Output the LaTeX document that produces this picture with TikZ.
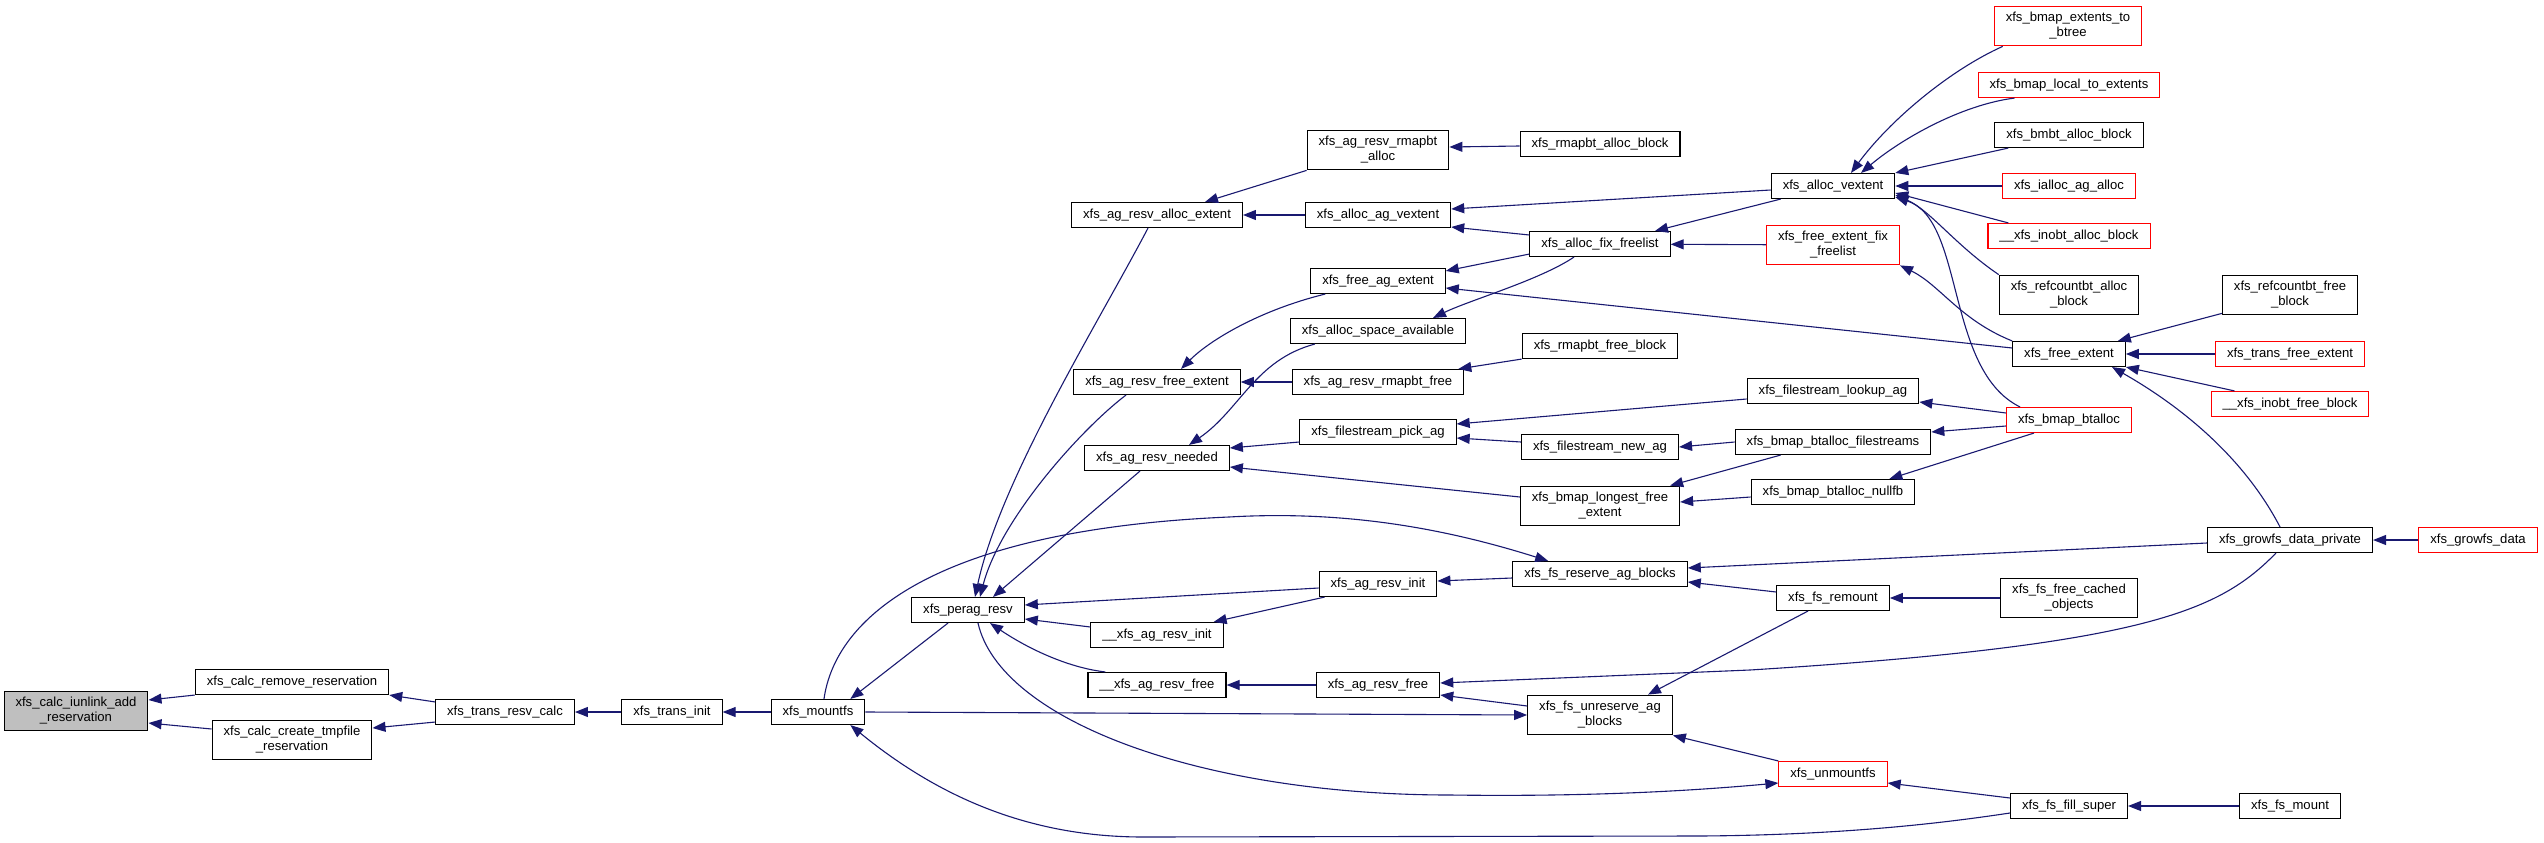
\documentclass[tikz,border=0pt]{standalone}
\usepackage{fontspec}
\setmainfont{Liberation Sans}
\usetikzlibrary{arrows.meta}
\definecolor{edgeblue}{HTML}{191970}

\begin{document}
\begin{tikzpicture}[x=1pt,y=-1pt,>={Triangle[length=13pt,width=10pt]},
  fn/.style={draw=black,line width=1.1pt,inner xsep=11.5pt,inner ysep=6.3pt,
    minimum height=25pt,align=center,font=\fontsize{13.1}{15}\selectfont},
  trunc/.style={fn,draw=red},
  root/.style={fn,fill=gray!50},
  call/.style={edgeblue,line width=1.1pt,<-}]
  \useasboundingbox (0,0) rectangle (2544,843);

  % root and the transaction chain
  \node[root] (iunlink) at (76,711) {xfs\_calc\_iunlink\_add\\\_reservation};
  \node[fn] (rmres) at (292,682) {xfs\_calc\_remove\_reservation};
  \node[fn] (tmpres) at (292,740) {xfs\_calc\_create\_tmpfile\\\_reservation};
  \node[fn] (resvcalc) at (505,712) {xfs\_trans\_resv\_calc};
  \node[fn] (transinit) at (672,712) {xfs\_trans\_init};
  \node[fn] (mountfs) at (818,712) {xfs\_mountfs};
  \node[fn] (peragresv) at (968,610) {xfs\_perag\_resv};

  % ag reservation column
  \node[fn] (allocext) at (1157,215) {xfs\_ag\_resv\_alloc\_extent};
  \node[fn] (freeext) at (1157,382) {xfs\_ag\_resv\_free\_extent};
  \node[fn] (needed) at (1157,458) {xfs\_ag\_resv\_needed};
  \node[fn] (uresvinit) at (1157,635) {\_\_xfs\_ag\_resv\_init};
  \node[fn] (uresvfree) at (1157,685) {\_\_xfs\_ag\_resv\_free};

  % next column
  \node[fn] (rmapalloc) at (1378,150) {xfs\_ag\_resv\_rmapbt\\\_alloc};
  \node[fn] (agvextent) at (1378,215) {xfs\_alloc\_ag\_vextent};
  \node[fn] (freeagext) at (1378,281) {xfs\_free\_ag\_extent};
  \node[fn] (spaceavail) at (1378,331) {xfs\_alloc\_space\_available};
  \node[fn] (rmapfree) at (1378,382) {xfs\_ag\_resv\_rmapbt\_free};
  \node[fn] (pickag) at (1378,432) {xfs\_filestream\_pick\_ag};
  \node[fn] (resvinit) at (1378,584) {xfs\_ag\_resv\_init};
  \node[fn] (resvfree) at (1378,685) {xfs\_ag\_resv\_free};

  \node[fn] (rmapallocblk) at (1600,144) {xfs\_rmapbt\_alloc\_block};
  \node[fn] (fixfree) at (1600,244) {xfs\_alloc\_fix\_freelist};
  \node[fn] (rmapfreeblk) at (1600,346) {xfs\_rmapbt\_free\_block};
  \node[fn] (newag) at (1600,447) {xfs\_filestream\_new\_ag};
  \node[fn] (longest) at (1600,506) {xfs\_bmap\_longest\_free\\\_extent};
  \node[fn] (reserve) at (1600,574) {xfs\_fs\_reserve\_ag\_blocks};
  \node[fn] (unreserve) at (1600,715) {xfs\_fs\_unreserve\_ag\\\_blocks};

  \node[fn] (vextent) at (1833,186) {xfs\_alloc\_vextent};
  \node[trunc] (fefix) at (1833,245) {xfs\_free\_extent\_fix\\\_freelist};
  \node[fn] (lookupag) at (1833,391) {xfs\_filestream\_lookup\_ag};
  \node[fn] (btfs) at (1833,442) {xfs\_bmap\_btalloc\_filestreams};
  \node[fn] (nullfb) at (1833,492) {xfs\_bmap\_btalloc\_nullfb};
  \node[fn] (remount) at (1833,598) {xfs\_fs\_remount};
  \node[trunc] (unmountfs) at (1833,774) {xfs\_unmountfs};

  \node[trunc] (tobtree) at (2068,26) {xfs\_bmap\_extents\_to\\\_btree};
  \node[trunc] (localext) at (2069,85) {xfs\_bmap\_local\_to\_extents};
  \node[fn] (bmbtalloc) at (2069,135) {xfs\_bmbt\_alloc\_block};
  \node[trunc] (iallocag) at (2069,186) {xfs\_ialloc\_ag\_alloc};
  \node[trunc] (inobtalloc) at (2069,236) {\_\_xfs\_inobt\_alloc\_block};
  \node[fn] (refalloc) at (2069,295) {xfs\_refcountbt\_alloc\\\_block};
  \node[fn] (freeextent) at (2069,354) {xfs\_free\_extent};
  \node[trunc] (btalloc) at (2069,420) {xfs\_bmap\_btalloc};
  \node[fn] (cached) at (2069,598) {xfs\_fs\_free\_cached\\\_objects};
  \node[fn] (fillsuper) at (2069,806) {xfs\_fs\_fill\_super};

  \node[fn] (reffree) at (2290,295) {xfs\_refcountbt\_free\\\_block};
  \node[trunc] (transfree) at (2290,354) {xfs\_trans\_free\_extent};
  \node[trunc] (inobtfree) at (2290,404) {\_\_xfs\_inobt\_free\_block};
  \node[fn] (growpriv) at (2290,540) {xfs\_growfs\_data\_private};
  \node[fn] (fsmount) at (2290,806) {xfs\_fs\_mount};
  \node[trunc] (growfs) at (2478,540) {xfs\_growfs\_data};

  % calls into the root
  \draw[call] ([yshift=11pt]iunlink.east) -- (rmres.south west);
  \draw[call] ([yshift=-12pt]iunlink.east) -- ([yshift=11pt]tmpres.west);
  \draw[call] (rmres.south east) -- ([yshift=-3pt]resvcalc.north west);
  \draw[call] ([yshift=12pt]tmpres.east) -- ([yshift=3pt]resvcalc.south west);
  \draw[call] (resvcalc) -- (transinit);
  \draw[call] (transinit) -- (mountfs);

  % around xfs_mountfs
  \draw[call] ([xshift=-15pt]mountfs.north east) -- ([xshift=-20pt]peragresv.south);
  \draw[call] ([xshift=-15pt]mountfs.south east) .. controls (930,790) and (1020,837) .. (1143,837)
    -- (1700,836) .. controls (1850,835) and (1950,822) .. ([yshift=-7pt]fillsuper.west);
  \draw[call] ([xshift=36pt]reserve.north west) .. controls (1450,530) and (1350,510) .. (1229,517)
    .. controls (930,530) and (835,620) .. ([xshift=6pt]mountfs.north);
  \draw[call] (unreserve.west) -- (mountfs.east);
  \draw[call] ([yshift=-9pt]unmountfs.west) .. controls (1700,790) and (1600,797) .. (1450,795)
    .. controls (1200,795) and (1000,720) .. ([xshift=10pt]peragresv.south);

  % callers of xfs_perag_resv
  \draw[call] ([xshift=7pt]peragresv.north) .. controls (1000,480) and (1100,320) .. ([xshift=-9pt]allocext.south);
  \draw[call] ([xshift=12pt]peragresv.north) .. controls (1000,520) and (1080,430) .. ([xshift=-31pt]freeext.south);
  \draw[call] ([xshift=25pt]peragresv.north) -- ([xshift=-17pt]needed.south);
  \draw[call] ([yshift=5pt]peragresv.east) -- ([yshift=-4pt]resvinit.west);
  \draw[call] ([yshift=-9pt]peragresv.east) -- ([yshift=8pt]uresvinit.west);
  \draw[call] ([xshift=22pt]peragresv.south) .. controls (1030,650) and (1070,668) .. ([xshift=18pt]uresvfree.north west);

  % allocation side
  \draw[call] ([xshift=48pt]allocext.north) -- (rmapalloc.south west);
  \draw[call] (allocext) -- (agvextent);
  \draw[call] ([yshift=3pt]rmapalloc.east) -- ([yshift=-2pt]rmapallocblk.west);
  \draw[call] ([yshift=6pt]agvextent.east) -- ([yshift=-4pt]vextent.west);
  \draw[call] ([yshift=-12pt]agvextent.east) -- ([yshift=9pt]fixfree.west);
  \draw[call] ([xshift=55pt]fixfree.north) -- ([xshift=10pt]vextent.south west);
  \draw[call] (fixfree) -- (fefix);
  \draw[call] ([yshift=-3pt]freeagext.north east) -- ([yshift=3pt]fixfree.south west);
  \draw[call] ([xshift=55pt]spaceavail.north) .. controls (1470,300) and (1540,280) .. ([xshift=-26pt]fixfree.south);
  \draw[call] ([yshift=-7pt]freeagext.east) -- ([yshift=6pt]freeextent.west);
  \draw[call] ([xshift=24pt]freeext.north) .. controls (1210,340) and (1260,310) .. ([xshift=15pt]freeagext.south west);
  \draw[call] ([xshift=32pt]needed.north) .. controls (1240,410) and (1255,360) .. ([xshift=25pt]spaceavail.south west);
  \draw[call] (freeext) -- (rmapfree);
  \draw[call] ([xshift=-6pt]rmapfree.north east) -- (rmapfreeblk.south west);

  % filestreams and bmap
  \draw[call] ([yshift=10pt]needed.east) -- ([yshift=-10pt]pickag.west);
  \draw[call] ([yshift=-9pt]needed.east) -- ([yshift=9pt]longest.west);
  \draw[call] ([yshift=8pt]pickag.east) -- ([yshift=-8pt]lookupag.west);
  \draw[call] ([yshift=-6pt]pickag.east) -- ([yshift=5pt]newag.west);
  \draw[call] (newag.east) -- (btfs.west);
  \draw[call] ([xshift=-10pt]longest.north east) -- ([xshift=46pt]btfs.south west);
  \draw[call] ([yshift=4pt]longest.east) -- ([yshift=-5pt]nullfb.west);
  \draw[call] ([yshift=-11pt]lookupag.east) -- ([yshift=7pt]btalloc.west);
  \draw[call] ([yshift=10pt]btfs.east) -- ([yshift=-6pt]btalloc.west);
  \draw[call] ([xshift=-26pt]nullfb.north east) -- ([xshift=-35pt]btalloc.south);

  % callers of xfs_alloc_vextent
  \draw[call] ([xshift=18pt]vextent.north) .. controls (1890,120) and (1950,70) .. ([xshift=9pt]tobtree.south west);
  \draw[call] ([xshift=28pt]vextent.north) .. controls (1900,140) and (1960,105) .. ([xshift=37pt]localext.south west);
  \draw[call] (vextent.north east) -- ([xshift=14pt]bmbtalloc.south west);
  \draw[call] (vextent) -- (iallocag);
  \draw[call] ([yshift=-7pt]vextent.east) -- ([xshift=21pt]inobtalloc.north west);
  \draw[call] ([yshift=-9pt]vextent.east) .. controls (1930,210) and (1955,245) .. (refalloc.north west);
  \draw[call] ([yshift=2pt]vextent.south east) .. controls (1965,220) and (1945,370) .. ([xshift=-49pt]btalloc.north);

  % xfs_free_extent and growfs
  \draw[call] (fefix.south east) .. controls (1940,285) and (1960,320) .. (freeextent.north west);
  \draw[call] ([xshift=-8pt]freeextent.north east) -- ([yshift=2pt]reffree.south west);
  \draw[call] (freeextent) -- (transfree);
  \draw[call] (freeextent.south east) -- ([xshift=24pt]inobtfree.north west);
  \draw[call] ([xshift=43pt]freeextent.south) .. controls (2170,400) and (2240,450) .. ([xshift=-10pt]growpriv.north);
  \draw[call] (growpriv) -- (growfs);

  % reserve / unreserve
  \draw[call] ([yshift=6pt]reserve.east) -- ([yshift=-3pt]growpriv.west);
  \draw[call] ([yshift=-8pt]reserve.east) -- ([yshift=6pt]remount.west);
  \draw[call] (remount) -- (cached);
  \draw[call] ([xshift=48pt]unreserve.north) -- ([xshift=-25pt]remount.south);
  \draw[call] ([yshift=2pt]resvfree.east) -- (1750,670) .. controls (2150,645) and (2220,610) .. ([xshift=-14pt]growpriv.south);
  \draw[call] ([yshift=-10pt]resvfree.east) -- ([yshift=9pt]unreserve.west);
  \draw[call] (uresvfree) -- (resvfree);
  \draw[call] ([yshift=3pt]resvinit.east) -- ([yshift=-4pt]reserve.west);
  \draw[call] ([xshift=-10pt]uresvinit.north east) -- ([xshift=6pt]resvinit.south west);
  \draw[call] (unreserve.south east) -- (unmountfs.north west);
  \draw[call] ([yshift=-9pt]unmountfs.east) -- ([yshift=8pt]fillsuper.west);
  \draw[call] (fillsuper) -- (fsmount);
\end{tikzpicture}
\end{document}
